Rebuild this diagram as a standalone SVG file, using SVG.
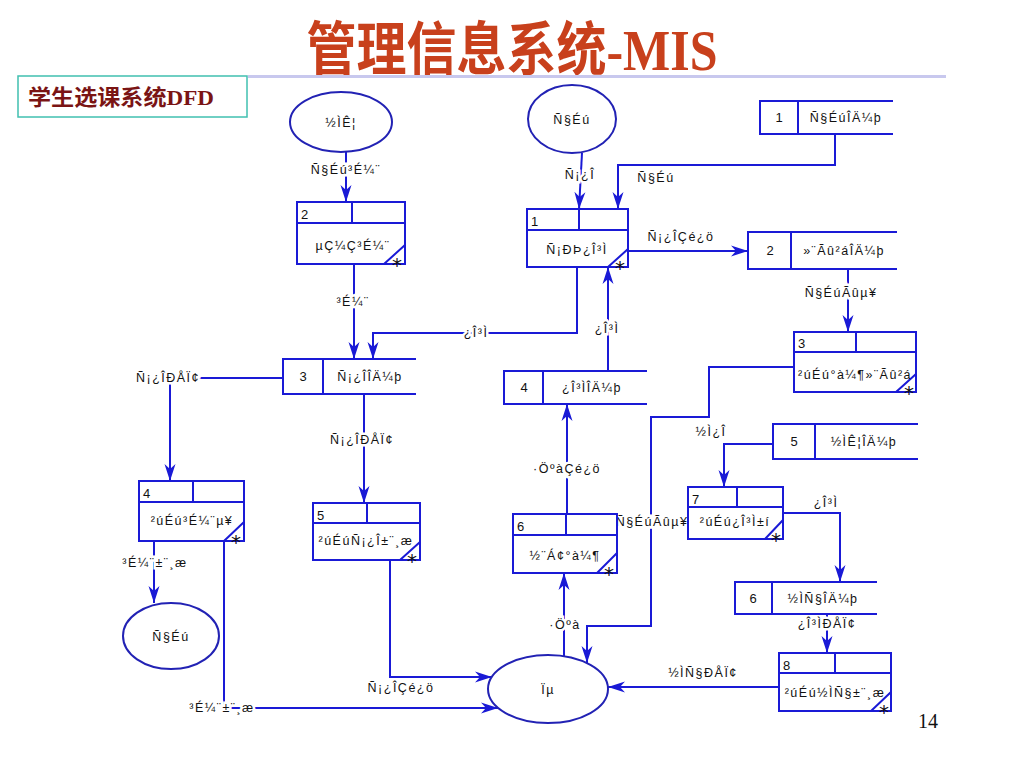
<svg xmlns="http://www.w3.org/2000/svg" width="1024" height="768" viewBox="0 0 1024 768">
<style>
.bx{fill:#fff;stroke:#1a1ad6;stroke-width:2}
.ln{fill:none;stroke:#1a1ad6;stroke-width:2}
.el{fill:#fff;stroke:#2222b4;stroke-width:2}
.t{font-family:"Liberation Sans",Arial,sans-serif;font-size:12.5px;letter-spacing:1.5px;fill:#111;text-anchor:middle}
.n{font-family:"Liberation Sans",Arial,sans-serif;font-size:13px;fill:#111}
.nc{font-family:"Liberation Sans",Arial,sans-serif;font-size:13px;fill:#111;text-anchor:middle}
.lb{font-family:"Liberation Sans",Arial,sans-serif;font-size:12.5px;letter-spacing:1.5px;fill:#111;text-anchor:middle;paint-order:stroke;stroke:#fff;stroke-width:5px}
.as{font-family:"DejaVu Sans",sans-serif;font-size:20px;fill:#111;text-anchor:middle}
</style>
<defs>
<marker id="ar" viewBox="-17 -6 17 12" refX="0" refY="0" markerWidth="17" markerHeight="12" markerUnits="userSpaceOnUse" orient="auto">
<path d="M0,0 L-17,-5.5 L-12,0 L-17,5.5 Z" fill="#1a1ad6"/>
</marker>
</defs>
<rect width="1024" height="768" fill="#fff"/>
<text transform="translate(512,70) scale(1,1.15)" text-anchor="middle" font-family="'Liberation Serif','Noto Sans CJK SC',serif" font-size="50" font-weight="bold" fill="#c8401c">管理信息系统-MIS</text>
<rect x="248" y="75" width="698" height="3" fill="#c8c8ee"/>
<g id="subtitle">
<rect x="18" y="76" width="229" height="41" fill="#fff" stroke="#40c0b0" stroke-width="1.5"/>
<text transform="translate(28,105) scale(1,1.1)" font-family="'Liberation Serif','Noto Sans CJK SC',serif" font-size="20" font-weight="bold" fill="#7a1414" textLength="186" lengthAdjust="spacingAndGlyphs">学生选课系统DFD</text>
</g>
<g id="connectors">
<path class="ln" d="M346,152 V202" marker-end="url(#ar)"/>
<path class="ln" d="M582,153 L579,209" marker-end="url(#ar)"/>
<path class="ln" d="M835,134 V165 H618 V209" marker-end="url(#ar)"/>
<path class="ln" d="M628,251 H748" marker-end="url(#ar)"/>
<path class="ln" d="M848,269 V332" marker-end="url(#ar)"/>
<path class="ln" d="M577,267 V333 H373 V359" marker-end="url(#ar)"/>
<path class="ln" d="M608,371 V267" marker-end="url(#ar)"/>
<path class="ln" d="M354,264 V359" marker-end="url(#ar)"/>
<path class="ln" d="M283,378 H170 V481" marker-end="url(#ar)"/>
<path class="ln" d="M364,394 V503" marker-end="url(#ar)"/>
<path class="ln" d="M154,541 V603" marker-end="url(#ar)"/>
<path class="ln" d="M224,541 V708 H498" marker-end="url(#ar)"/>
<path class="ln" d="M390,560 V677 H492" marker-end="url(#ar)"/>
<path class="ln" d="M564,656 V573" marker-end="url(#ar)"/>
<path class="ln" d="M567,514 V404" marker-end="url(#ar)"/>
<path class="ln" d="M794,367 H709 V417 H651 V626 H587 V663" marker-end="url(#ar)"/>
<path class="ln" d="M773,444 H724 V487" marker-end="url(#ar)"/>
<path class="ln" d="M783,513 H840 V582" marker-end="url(#ar)"/>
<path class="ln" d="M827,614 V653" marker-end="url(#ar)"/>
<path class="ln" d="M779,687 H608" marker-end="url(#ar)"/>
<text class="lb" x="346" y="174">Ñ§Éú³É¼¨</text>
<text class="lb" x="580" y="179">Ñ¡¿Î</text>
<text class="t" x="656" y="182">Ñ§Éú</text>
<text class="t" x="681" y="241">Ñ¡¿ÎÇé¿ö</text>
<text class="lb" x="841" y="297">Ñ§ÉúÃûµ¥</text>
<text class="lb" x="476" y="337">¿Î³Ì</text>
<text class="lb" x="607" y="333">¿Î³Ì</text>
<text class="lb" x="353" y="306">³É¼¨</text>
<text class="lb" x="168" y="382">Ñ¡¿ÎÐÅÏ¢</text>
<text class="lb" x="362" y="444">Ñ¡¿ÎÐÅÏ¢</text>
<text class="lb" x="155" y="567">³É¼¨±¨¸æ</text>
<text class="lb" x="222" y="712">³É¼¨±¨¸æ</text>
<text class="t" x="401" y="692">Ñ¡¿ÎÇé¿ö</text>
<text class="lb" x="565" y="629">·Öºà</text>
<text class="lb" x="567" y="473">·ÖºàÇé¿ö</text>
<text class="lb" x="652" y="526">Ñ§ÉúÃûµ¥</text>
<text class="t" x="711" y="436">½Ì¿Î</text>
<text class="t" x="826" y="507">¿Î³Ì</text>
<text class="lb" x="827" y="628">¿Î³ÌÐÅÏ¢</text>
<text class="t" x="703" y="677">½ÌÑ§ÐÅÏ¢</text>
</g>
<g id="ext-teacher">
<ellipse class="el" cx="341" cy="122" rx="51" ry="30"/>
<text class="t" x="341" y="127">½ÌÊ¦</text>
</g>
<g id="ext-student1">
<ellipse class="el" cx="572" cy="119" rx="44" ry="34"/>
<text class="t" x="572" y="124">Ñ§Éú</text>
</g>
<g id="ext-student2">
<ellipse class="el" cx="171" cy="636" rx="48" ry="33"/>
<text class="t" x="171" y="641">Ñ§Éú</text>
</g>
<g id="ext-dept">
<ellipse class="el" cx="548" cy="689" rx="60" ry="34"/>
<text class="t" x="548" y="694">Ïµ</text>
</g>
<g id="proc1">
<rect class="bx" x="527" y="209" width="101" height="58"/>
<path class="ln" d="M527,230 H628 M579,209 V230 M628,249 L608,267"/>
<text class="n" x="531" y="226">1</text>
<text class="t" x="577" y="254">Ñ¡ÐÞ¿Î³Ì</text>
<text class="as" x="620" y="275">*</text>
</g>
<g id="proc2">
<rect class="bx" x="297" y="202" width="108" height="62"/>
<path class="ln" d="M297,223 H405 M352,202 V223 M405,245 L384,264"/>
<text class="n" x="301" y="219">2</text>
<text class="t" x="353" y="250">µÇ¼Ç³É¼¨</text>
<text class="as" x="397" y="272">*</text>
</g>
<g id="proc3">
<rect class="bx" x="794" y="332" width="122" height="60"/>
<path class="ln" d="M794,352 H916 M856,332 V352 M916,374 L896,392"/>
<text class="n" x="798" y="348">3</text>
<text class="t" x="855" y="379" letter-spacing="0.5">²úÉú°à¼¶»¨Ãû²á</text>
<text class="as" x="909" y="400">*</text>
</g>
<g id="proc4">
<rect class="bx" x="139" y="481" width="105" height="60"/>
<path class="ln" d="M139,502 H244 M193,481 V502 M244,522 L224,541"/>
<text class="n" x="143" y="498">4</text>
<text class="t" x="192" y="525">²úÉú³É¼¨µ¥</text>
<text class="as" x="236" y="549">*</text>
</g>
<g id="proc5">
<rect class="bx" x="313" y="503" width="107" height="57"/>
<path class="ln" d="M313,523 H420 M367,503 V523 M420,542 L400,560"/>
<text class="n" x="317" y="520">5</text>
<text class="t" x="366" y="545" letter-spacing="1">²úÉúÑ¡¿Î±¨¸æ</text>
<text class="as" x="412" y="568">*</text>
</g>
<g id="proc6">
<rect class="bx" x="513" y="514" width="104" height="59"/>
<path class="ln" d="M513,535 H617 M566,514 V535 M617,553 L597,573"/>
<text class="n" x="517" y="531">6</text>
<text class="t" x="565" y="560">½¨Á¢°à¼¶</text>
<text class="as" x="609" y="581">*</text>
</g>
<g id="proc7">
<rect class="bx" x="688" y="487" width="95" height="52"/>
<path class="ln" d="M688,507 H783 M737,487 V507 M783,520 L765,539"/>
<text class="n" x="692" y="504">7</text>
<text class="t" x="735" y="526" letter-spacing="1">²úÉú¿Î³Ì±í</text>
<text class="as" x="776" y="547">*</text>
</g>
<g id="proc8">
<rect class="bx" x="779" y="653" width="112" height="58"/>
<path class="ln" d="M779,673 H891 M835,653 V673 M891,692 L871,711"/>
<text class="n" x="783" y="670">8</text>
<text class="t" x="835" y="697" letter-spacing="1">²úÉú½ÌÑ§±¨¸æ</text>
<text class="as" x="884" y="719">*</text>
</g>
<g id="store1">
<path class="ln" d="M893,101 H760 V134 H893 M798,101 V134"/>
<text class="nc" x="779" y="122">1</text>
<text class="t" x="846" y="122">Ñ§ÉúÎÄ¼þ</text>
</g>
<g id="store2">
<path class="ln" d="M897,232 H748 V269 H897 M791,232 V269"/>
<text class="nc" x="770" y="255">2</text>
<text class="t" x="844" y="255">»¨Ãû²áÎÄ¼þ</text>
</g>
<g id="store3">
<path class="ln" d="M416,359 H283 V394 H416 M323,359 V394"/>
<text class="nc" x="303" y="381">3</text>
<text class="t" x="370" y="381">Ñ¡¿ÎÎÄ¼þ</text>
</g>
<g id="store4">
<path class="ln" d="M647,371 H504 V404 H647 M543,371 V404"/>
<text class="nc" x="524" y="392">4</text>
<text class="t" x="592" y="392">¿Î³ÌÎÄ¼þ</text>
</g>
<g id="store5">
<path class="ln" d="M918,424 H773 V459 H918 M815,424 V459"/>
<text class="nc" x="794" y="446">5</text>
<text class="t" x="864" y="446">½ÌÊ¦ÎÄ¼þ</text>
</g>
<g id="store6">
<path class="ln" d="M877,582 H735 V614 H877 M772,582 V614"/>
<text class="nc" x="753" y="603">6</text>
<text class="t" x="823" y="603">½ÌÑ§ÎÄ¼þ</text>
</g>
<text x="928" y="728" text-anchor="middle" font-family="'Liberation Serif',serif" font-size="20" fill="#111">14</text>
</svg>
